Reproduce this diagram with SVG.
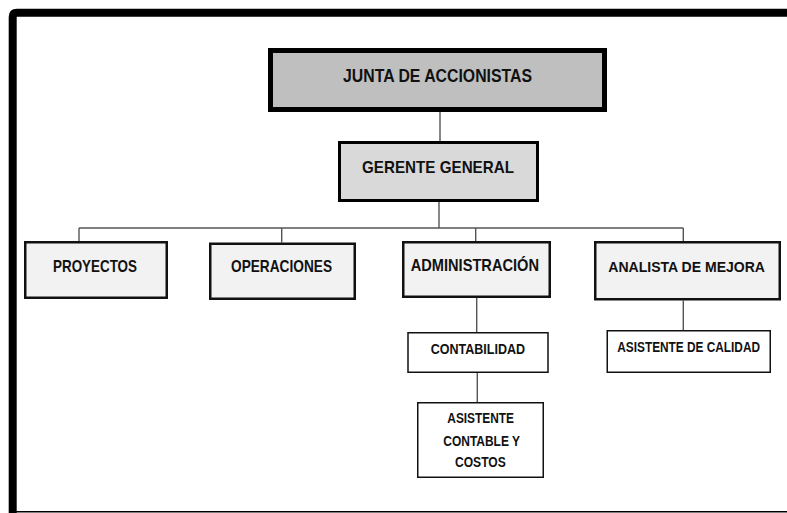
<svg xmlns="http://www.w3.org/2000/svg" width="787" height="513" viewBox="0 0 787 513">
<style>
.t{font-family:"Liberation Sans",Arial,sans-serif;font-weight:bold;fill:#111;}
.c{stroke:#555;stroke-width:1.4;fill:none;}
.b2{stroke:#111;stroke-width:2.5;fill:#f2f2f2;}
.b1{stroke:#111;stroke-width:1.5;fill:#fff;}
</style>
<rect width="787" height="513" fill="#fff"/>
<g id="frame">
<path d="M12.7 513 V17 Q12.7 12.7 17 12.7 H787" stroke="#000" stroke-width="8" fill="none"/>
<line x1="9" y1="511.8" x2="787" y2="511.8" stroke="#000" stroke-width="1.4"/>
</g>
<g id="connectors">
<line class="c" x1="440" y1="112" x2="440" y2="141" stroke="#888"/>
<line class="c" x1="439" y1="202" x2="439" y2="228"/>
<line class="c" x1="79" y1="228" x2="683.3" y2="228" stroke="#222"/>
<line class="c" x1="79" y1="228" x2="79" y2="241"/>
<line class="c" x1="281.7" y1="228" x2="281.7" y2="242.5"/>
<line class="c" x1="475.7" y1="228" x2="475.7" y2="241"/>
<line class="c" x1="683.3" y1="228" x2="683.3" y2="241"/>
<line class="c" x1="476.7" y1="298" x2="476.7" y2="332"/>
<line class="c" x1="477.3" y1="372.5" x2="477.3" y2="402"/>
<line class="c" x1="683.3" y1="300.5" x2="683.3" y2="330"/>
</g>
<g id="junta">
<rect x="270.5" y="50.5" width="334" height="59" fill="#bfbfbf" stroke="#000" stroke-width="5"/>
<text class="t" x="343" y="81.5" font-size="18" textLength="189" lengthAdjust="spacingAndGlyphs">JUNTA DE ACCIONISTAS</text>
</g>
<g id="gerente">
<rect x="339.5" y="142.5" width="198" height="58" fill="#d9d9d9" stroke="#000" stroke-width="3"/>
<text class="t" x="362" y="173.3" font-size="17" textLength="152" lengthAdjust="spacingAndGlyphs">GERENTE GENERAL</text>
</g>
<g id="proyectos">
<rect class="b2" x="25.25" y="242.25" width="141.5" height="55.5"/>
<text class="t" x="53" y="271.7" font-size="17" textLength="84" lengthAdjust="spacingAndGlyphs">PROYECTOS</text>
</g>
<g id="operaciones">
<rect class="b2" x="210.25" y="243.75" width="144.5" height="55"/>
<text class="t" x="231" y="272" font-size="17" textLength="101" lengthAdjust="spacingAndGlyphs">OPERACIONES</text>
</g>
<g id="administracion">
<rect class="b2" x="403.25" y="242.25" width="146.5" height="54.5"/>
<text class="t" x="410.7" y="270.8" font-size="17" textLength="128.3" lengthAdjust="spacingAndGlyphs">ADMINISTRACIÓN</text>
</g>
<g id="analista">
<rect class="b2" x="595.25" y="242.25" width="184.5" height="57"/>
<text class="t" x="608.3" y="271.7" font-size="15.5" textLength="156.7" lengthAdjust="spacingAndGlyphs">ANALISTA DE MEJORA</text>
</g>
<g id="contabilidad">
<rect class="b1" x="408" y="332.75" width="140" height="39.5"/>
<text class="t" x="430.7" y="354" font-size="14.5" textLength="94.3" lengthAdjust="spacingAndGlyphs">CONTABILIDAD</text>
</g>
<g id="asistente-calidad">
<rect class="b1" x="607.25" y="330.75" width="163" height="41.5"/>
<text class="t" x="617.3" y="351.7" font-size="14" textLength="142.7" lengthAdjust="spacingAndGlyphs">ASISTENTE DE CALIDAD</text>
</g>
<g id="asistente-contable">
<rect class="b1" x="417.75" y="402.75" width="125.5" height="74.5"/>
<text class="t" x="447.3" y="423.4" font-size="14" textLength="66.7" lengthAdjust="spacingAndGlyphs">ASISTENTE</text>
<text class="t" x="443.3" y="445.7" font-size="14" textLength="76.7" lengthAdjust="spacingAndGlyphs">CONTABLE Y</text>
<text class="t" x="455" y="467.4" font-size="14" textLength="50.7" lengthAdjust="spacingAndGlyphs">COSTOS</text>
</g>
</svg>
